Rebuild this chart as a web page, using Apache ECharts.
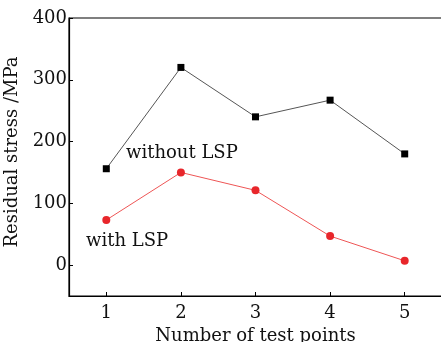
<!DOCTYPE html>
<html>
<head>
<meta charset="utf-8">
<script src="https://cdn.jsdelivr.net/npm/echarts@6/dist/echarts.min.js"></script>
<style>
html, body { margin: 0; padding: 0; background: #fff; }
#chart { width: 441px; height: 342px; }
</style>
</head>
<body>
<div id="chart"></div>
<script>
// 测试点编号
const points = [1, 2, 3, 4, 5]
// 未经激光冲击
const withoutLSP = [156, 320, 240, 267, 180]
// 激光冲击后
const withLSP = [73, 150, 121, 47, 7]
const yTicks = [0, 100, 200, 300, 400]

const font = 'DejaVu Serif'
const chart = echarts.init(document.getElementById('chart'))

const option = {
    animation: false,
    grid: {
        left: 69, right: -1, top: 18, bottom: 46,
        outerBoundsMode: 'none', containLabel: false,
        show: true, borderColor: '#000', borderWidth: 1.2
    },
    xAxis: {
        type: 'value',
        min: 0.5, max: 5.5,
        name: 'Number of test points',
        nameLocation: 'middle',
        nameGap: 26,
        nameTextStyle: { fontFamily: font, fontSize: 18, color: '#111' },
        axisLine: { show: true, onZero: false, lineStyle: { color: '#000', width: 1.2 } },
        axisTick: { show: true, inside: true, length: 4, customValues: points, lineStyle: { color: '#000' } },
        axisLabel: { fontFamily: font, fontSize: 18, color: '#111', margin: 8, customValues: points },
        splitLine: { show: false }
    },
    yAxis: {
        type: 'value',
        min: -50, max: 400,
        name: 'Residual stress /MPa',
        nameLocation: 'middle',
        nameGap: 41,
        nameTextStyle: { fontFamily: font, fontSize: 18, color: '#111', padding: [0, 0, 0, 10] },
        axisLine: { show: true, onZero: false, lineStyle: { color: '#000', width: 1.2 } },
        axisTick: { show: true, inside: true, length: 4, customValues: yTicks, lineStyle: { color: '#000' } },
        axisLabel: { fontFamily: font, fontSize: 18, color: '#111', margin: 2, customValues: yTicks },
        splitLine: { show: false }
    },
    series: [
        {
            name: 'without LSP',
            type: 'line',
            data: points.map((p, i) => [p, withoutLSP[i]]),
            symbol: 'rect',
            symbolSize: 7,
            lineStyle: { color: '#555', width: 1 },
            itemStyle: { color: '#000' }
        },
        {
            name: 'with LSP',
            type: 'line',
            data: points.map((p, i) => [p, withLSP[i]]),
            symbol: 'circle',
            symbolSize: 8,
            lineStyle: { color: '#ee5555', width: 1 },
            itemStyle: { color: '#e8262b' }
        }
    ],
    graphic: [
        {
            type: 'text', left: 126, top: 144,
            style: { text: 'without LSP', fontFamily: font, fontSize: 18, fill: '#111' }
        },
        {
            type: 'text', left: 86, top: 232,
            style: { text: 'with LSP', fontFamily: font, fontSize: 18, fill: '#111' }
        }
    ]
}
chart.setOption(option)
</script>
</body>
</html>
